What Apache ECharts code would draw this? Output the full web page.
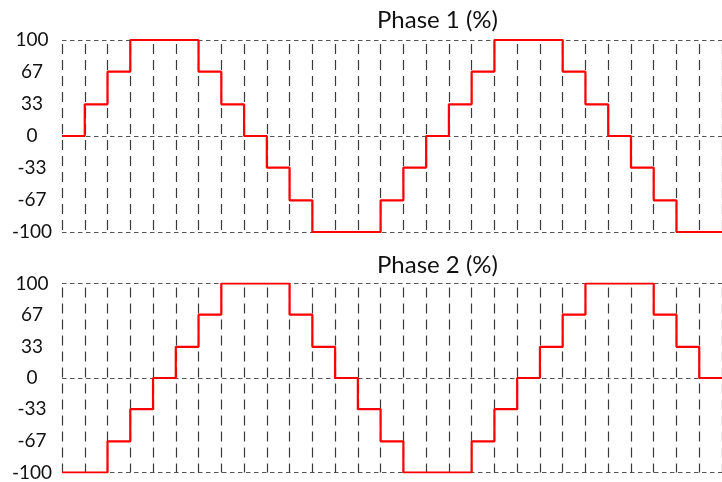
<!DOCTYPE html>
<html>
<head>
<meta charset="utf-8">
<script src="https://cdn.jsdelivr.net/npm/echarts@6/dist/echarts.min.js"></script>
<style>
html,body{margin:0;padding:0;background:#fff;}
#chart{width:722px;height:482px;}
</style>
</head>
<body>
<div id="chart"></div>
<script>
// Step index (one per dashed column), last entry is the right edge
var steps = [];
for (var i = 0; i < 30; i++) steps.push(String(i));

var phase1 = [0,33,67,100,100,100,67,33,0,-33,
              -67,-100,-100,-100,-67,-33,0,33,67,100,
              100,100,67,33,0,-33,-67,-100,-100,-100];
var phase2 = [-100,-100,-67,-33,0,33,67,100,100,100,
              67,33,0,-33,-67,-100,-100,-100,-67,-33,
              0,33,67,100,100,100,67,33,0,0];

var yTicks = [-100,-67,-33,0,33,67,100];
var titles = ['Phase 1 (%)','Phase 2 (%)'];

var FONT = 'Lato';

function xAxis(idx){
  return {
    type:'category', gridIndex:idx, data:steps, boundaryGap:false,
    axisLine:{show:false}, axisTick:{show:false}, axisLabel:{show:false},
    splitLine:{show:true, interval:0, lineStyle:{color:'#3a3a3a', width:1.2, type:[10,6], dashOffset:12}}
  };
}
function yAxis(idx){
  return {
    type:'value', gridIndex:idx, min:-100, max:100, interval:100,
    axisLine:{show:false}, axisTick:{show:false},
    axisLabel:{customValues:yTicks, align:'center', margin:30, color:'#111', fontFamily:FONT, fontSize:19},
    splitLine:{show:true, lineStyle:{color:'#555', width:1.2, type:[4.5,3.5]}}
  };
}

var chart = echarts.init(document.getElementById('chart'));
chart.setOption({
  animation:false,
  backgroundColor:'#fff',
  title:[
    {text:titles[0], left:372, top:3, textStyle:{fontFamily:FONT, fontSize:24, fontWeight:'normal', color:'#111'}},
    {text:titles[1], left:372, top:248, textStyle:{fontFamily:FONT, fontSize:24, fontWeight:'normal', color:'#111'}}
  ],
  grid:[
    {left:62, top:40, width:661.5, height:192},
    {left:62, top:283.5, width:661.5, height:191}
  ],
  xAxis:[xAxis(0), xAxis(1)],
  yAxis:[yAxis(0), yAxis(1)],
  series:[
    {type:'line', xAxisIndex:0, yAxisIndex:0, data:phase1, step:'end', symbol:'none',
     lineStyle:{color:'#ff0000', width:2.2}, z:5},
    {type:'line', xAxisIndex:1, yAxisIndex:1, data:phase2, step:'end', symbol:'none',
     lineStyle:{color:'#ff0000', width:2.2}, z:5}
  ]
});
</script>
</body>
</html>
